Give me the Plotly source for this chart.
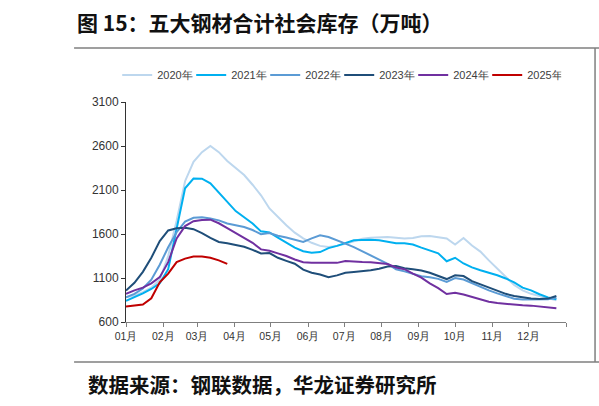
import plotly.graph_objects as go

# 周度日期（统一放到同一年份的横轴上）
weeks = ["2021-01-01", "2021-01-08", "2021-01-15", "2021-01-22", "2021-01-29",
         "2021-02-05", "2021-02-12", "2021-02-19", "2021-02-26", "2021-03-05",
         "2021-03-12", "2021-03-19", "2021-03-26", "2021-04-02", "2021-04-09",
         "2021-04-16", "2021-04-23", "2021-04-30", "2021-05-07", "2021-05-14",
         "2021-05-21", "2021-05-28", "2021-06-04", "2021-06-11", "2021-06-18",
         "2021-06-25", "2021-07-02", "2021-07-09", "2021-07-16", "2021-07-23",
         "2021-07-30", "2021-08-06", "2021-08-13", "2021-08-20", "2021-08-27",
         "2021-09-03", "2021-09-10", "2021-09-17", "2021-09-24", "2021-10-01",
         "2021-10-08", "2021-10-15", "2021-10-22", "2021-10-29", "2021-11-05",
         "2021-11-12", "2021-11-19", "2021-11-26", "2021-12-03", "2021-12-10",
         "2021-12-17", "2021-12-24"]

# 五大钢材社会库存（万吨）
y2020 = [880, 900, 940, 990, 1080, 1350, 1750, 2200, 2420, 2530, 2600, 2530, 2430,
         2350, 2270, 2160, 2040, 1890, 1790, 1700, 1615, 1550, 1500, 1465, 1452, 1465,
         1490, 1520, 1545, 1558, 1566, 1566, 1558, 1548, 1555, 1575, 1577, 1565, 1550,
         1480, 1555, 1470, 1400, 1300, 1210, 1120, 1020, 960, 920, 895, 870, 848]
y2021 = [840, 880, 925, 975, 1040, 1200, 1680, 2120, 2230, 2228, 2175, 2070, 1960,
         1860, 1790, 1720, 1630, 1618, 1560, 1500, 1445, 1405, 1388, 1395, 1440, 1465,
         1495, 1528, 1533, 1536, 1530, 1510, 1495, 1495, 1480, 1445, 1415, 1380, 1290,
         1330, 1265, 1220, 1188, 1160, 1131, 1095, 1050, 990, 960, 915, 880, 858]
y2022 = [880, 920, 980, 1080, 1250, 1450, 1620, 1740, 1785, 1790, 1775, 1755, 1720,
         1699, 1680, 1645, 1597, 1610, 1580, 1560, 1535, 1510, 1550, 1585, 1565, 1530,
         1490, 1450, 1405, 1355, 1310, 1260, 1200, 1175, 1150, 1120, 1108, 1090, 1055,
         1100, 1082, 1040, 1000, 960, 925, 895, 865, 855, 855, 856, 858, 875]
y2023 = [957, 1045, 1170, 1330, 1520, 1640, 1665, 1670, 1655, 1610, 1555, 1510, 1495,
         1478, 1455, 1420, 1378, 1383, 1330, 1295, 1262, 1195, 1160, 1140, 1110, 1130,
         1160, 1168, 1175, 1188, 1205, 1230, 1235, 1210, 1200, 1185, 1160, 1125, 1088,
         1130, 1122, 1065, 1030, 990, 955, 920, 896, 880, 866, 862, 866, 895]
y2024 = [920, 960, 990, 1040, 1110, 1280, 1550, 1690, 1745, 1760, 1763, 1722, 1667,
         1610, 1560, 1500, 1425, 1410, 1380, 1350, 1310, 1280, 1272, 1271, 1271, 1272,
         1293, 1285, 1282, 1280, 1272, 1258, 1220, 1200, 1150, 1105, 1040, 985, 918,
         932, 912, 885, 860, 830, 815, 805, 800, 790, 786, 776, 768, 755]
y2025 = [776, 785, 799, 870, 1050, 1150, 1280, 1320, 1345, 1345, 1330, 1300, 1260]

series = ["2020年", "2021年", "2022年", "2023年", "2024年", "2025年"]
values = [y2020, y2021, y2022, y2023, y2024, y2025]
colors = ["#BDD7EE", "#00B0F0", "#5B9BD5", "#1F4E79", "#7030A0", "#C00000"]

month_ticks = ["2021-01-01", "2021-02-01", "2021-03-01", "2021-04-01", "2021-05-01",
               "2021-06-01", "2021-07-01", "2021-08-01", "2021-09-01", "2021-10-01",
               "2021-11-01", "2021-12-01", "2022-01-01"]
month_labels = ["01月", "02月", "03月", "04月", "05月", "06月", "07月", "08月",
                "09月", "10月", "11月", "12月", ""]
y_ticks = [600, 1100, 1600, 2100, 2600, 3100]

fig = go.Figure()
for name, vals, c in zip(series, values, colors):
    fig.add_trace(go.Scatter(x=weeks[:len(vals)], y=vals, name=name, mode="lines",
                             line=dict(color=c, width=2), hoverinfo="skip"))

fig.update_layout(
    width=599, height=406,
    margin=dict(l=126, r=33, t=102, b=84),
    paper_bgcolor="white", plot_bgcolor="white",
    font=dict(family="Liberation Sans, Arial", size=11, color="#333333"),
    showlegend=True, hovermode=False,
    legend=dict(orientation="h", x=-0.02, y=1.123, xanchor="left", yanchor="middle",
                font=dict(size=11, color="#404040"), entrywidth=29, entrywidthmode="pixels",
                itemwidth=30, bgcolor="rgba(0,0,0,0)"),
    xaxis=dict(type="date", range=["2021-01-01", "2022-01-01"], tickvals=month_ticks,
               ticktext=month_labels, ticks="outside", ticklen=4, tickcolor="#7f7f7f",
               showline=True, linecolor="#7f7f7f", linewidth=1, showgrid=False,
               zeroline=False, tickfont=dict(size=10.5, color="#333333")),
    yaxis=dict(range=[600, 3100], tickvals=y_ticks, ticks="outside", ticklen=4,
               tickcolor="#333333", showline=True, linecolor="#333333", linewidth=1,
               showgrid=False, zeroline=False, tickfont=dict(size=12, color="#333333")),
)

# 标题、来源与边框线
fig.add_annotation(text="<b>图 15：五大钢材合计社会库存（万吨）</b>", xref="paper", yref="paper",
                   x=-0.116, y=1.364, xanchor="left", yanchor="middle", showarrow=False,
                   font=dict(family="Noto Sans CJK SC", size=21, color="#111111"))
fig.add_annotation(text="<b>数据来源：钢联数据，华龙证券研究所</b>", xref="paper", yref="paper",
                   x=-0.09, y=-0.282, xanchor="left", yanchor="middle", showarrow=False,
                   font=dict(family="Noto Sans CJK SC", size=20.5, color="#111111"))
line_style = dict(color="#7f7f7f", width=1.5)
fig.add_shape(type="line", xref="paper", yref="paper", x0=-0.118, x1=1.08, y0=1.245, y1=1.245,
              line=line_style, layer="above")
fig.add_shape(type="line", xref="paper", yref="paper", x0=-0.118, x1=1.08, y0=-0.182, y1=-0.182,
              line=line_style, layer="above")
fig.add_shape(type="line", xref="paper", yref="paper", x0=1.066, x1=1.066, y0=-0.182, y1=1.245,
              line=line_style, layer="above")

# 去掉页面默认边距，让画布与窗口对齐
fig.write_html("out.html", config={"displayModeBar": False},
               post_script="document.body.style.margin='0';document.body.style.overflow='hidden';")
